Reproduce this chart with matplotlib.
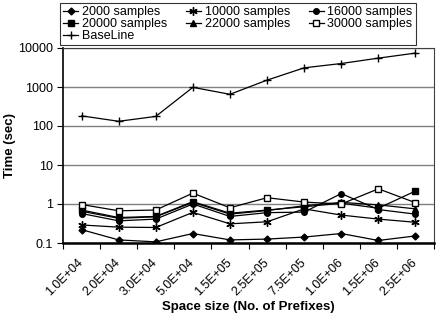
import matplotlib
matplotlib.use("Agg")
import matplotlib.pyplot as plt
from matplotlib.transforms import ScaledTranslation
import numpy as np

plt.rcParams['font.family'] = ['Liberation Sans', 'DejaVu Sans']

categories = ["1.0E+04", "2.0E+04", "3.0E+04", "5.0E+04", "1.5E+05",
              "2.5E+05", "7.5E+05", "1.0E+06", "1.5E+06", "2.5E+06"]

s2000 = [0.22, 0.12, 0.107, 0.175, 0.12, 0.126, 0.142, 0.175, 0.116, 0.152]
s10000 = [0.29, 0.255, 0.25, 0.61, 0.31, 0.35, 0.75, 0.52, 0.41, 0.34]
s16000 = [0.57, 0.37, 0.41, 1.00, 0.48, 0.60, 0.62, 1.85, 0.72, 0.55]
s20000 = [0.70, 0.45, 0.48, 1.15, 0.58, 0.70, 0.85, 1.05, 0.78, 2.15]
s22000 = [0.65, 0.43, 0.47, 1.10, 0.55, 0.68, 0.90, 1.10, 0.95, 0.75]
s30000 = [0.97, 0.67, 0.70, 1.90, 0.80, 1.45, 1.12, 1.00, 2.45, 1.08]
baseline = [182, 132, 176, 980, 650, 1500, 3100, 4000, 5500, 7400]

series = [
    ("2000 samples", s2000, dict(marker='D', ms=3.5, mfc='black')),
    ("10000 samples", s10000, dict(marker=(6, 2, 0), ms=6, mew=1.0)),
    ("16000 samples", s16000, dict(marker='o', ms=4, mfc='black')),
    ("20000 samples", s20000, dict(marker='s', ms=4.5, mfc='black')),
    ("22000 samples", s22000, dict(marker='^', ms=4, mfc='black')),
    ("30000 samples", s30000, dict(marker='s', ms=4, mfc='white')),
    ("BaseLine", baseline, dict(marker='+', ms=6, mew=1.0)),
]

fig = plt.figure(figsize=(4.45, 3.2), dpi=100)
ax = fig.add_axes([63/445, 1-243/320, (434-63)/445, (243-48)/320])

x = np.arange(len(categories))
handles = {}
for name, vals, st in series:
    h, = ax.plot(x, vals, color='black', lw=0.9, mec='black', label=name, **st)
    handles[name] = h

ax.set_yscale('log')
ax.set_ylim(0.1, 10000)
ax.set_xlim(-0.5, len(categories) - 0.5)
ax.set_yticks([0.1, 1, 10, 100, 1000, 10000])
ax.set_yticklabels(["0.1", "1", "10", "100", "1000", "10000"])
ax.yaxis.set_minor_locator(matplotlib.ticker.NullLocator())
ax.yaxis.grid(True, color='#808080', lw=1.0)
ax.set_axisbelow(True)

ax.set_xticks(x)
ax.set_xticklabels(categories, rotation=45, ha='right', va='center',
                   rotation_mode='anchor')
offset = ScaledTranslation(-9/100, 0, fig.dpi_scale_trans)
for lab in ax.get_xticklabels():
    lab.set_transform(lab.get_transform() + offset)
ax.set_xticks(np.arange(-0.5, len(categories)), minor=True)
ax.tick_params(axis='x', which='major', length=0, pad=12.5, labelsize=9)
ax.tick_params(axis='x', which='minor', length=4, width=0.8)
ax.tick_params(axis='y', which='major', length=4, width=0.8, pad=3.5, labelsize=9)

for sp in ['left', 'bottom']:
    ax.spines[sp].set_linewidth(1.2)
    ax.spines[sp].set_color('black')
for sp in ['right', 'top']:
    ax.spines[sp].set_linewidth(0.8)
    ax.spines[sp].set_color('#404040')
ax.spines['bottom'].set_linewidth(1.8)

ax.set_ylabel("Time (sec)", fontsize=9.5, fontweight='bold', labelpad=1)
ax.xaxis.set_label_coords(0.5, -(307-243)/(243-48))
ax.set_xlabel("Space size (No. of Prefixes)", fontsize=9.5, fontweight='bold',
              va='center')

order = ["2000 samples", "20000 samples", "BaseLine",
         "10000 samples", "22000 samples",
         "16000 samples", "30000 samples"]
leg = fig.legend([handles[n] for n in order], order, ncol=3,
                 loc='upper left', bbox_to_anchor=(60/445, 1-3/320),
                 fontsize=9, frameon=True, fancybox=False, edgecolor='black',
                 handlelength=1.2, handletextpad=0.3, columnspacing=1.5,
                 labelspacing=0.0, borderpad=0.25, borderaxespad=0)
leg.get_frame().set_linewidth(0.8)

fig.savefig("out.png", dpi=100)
